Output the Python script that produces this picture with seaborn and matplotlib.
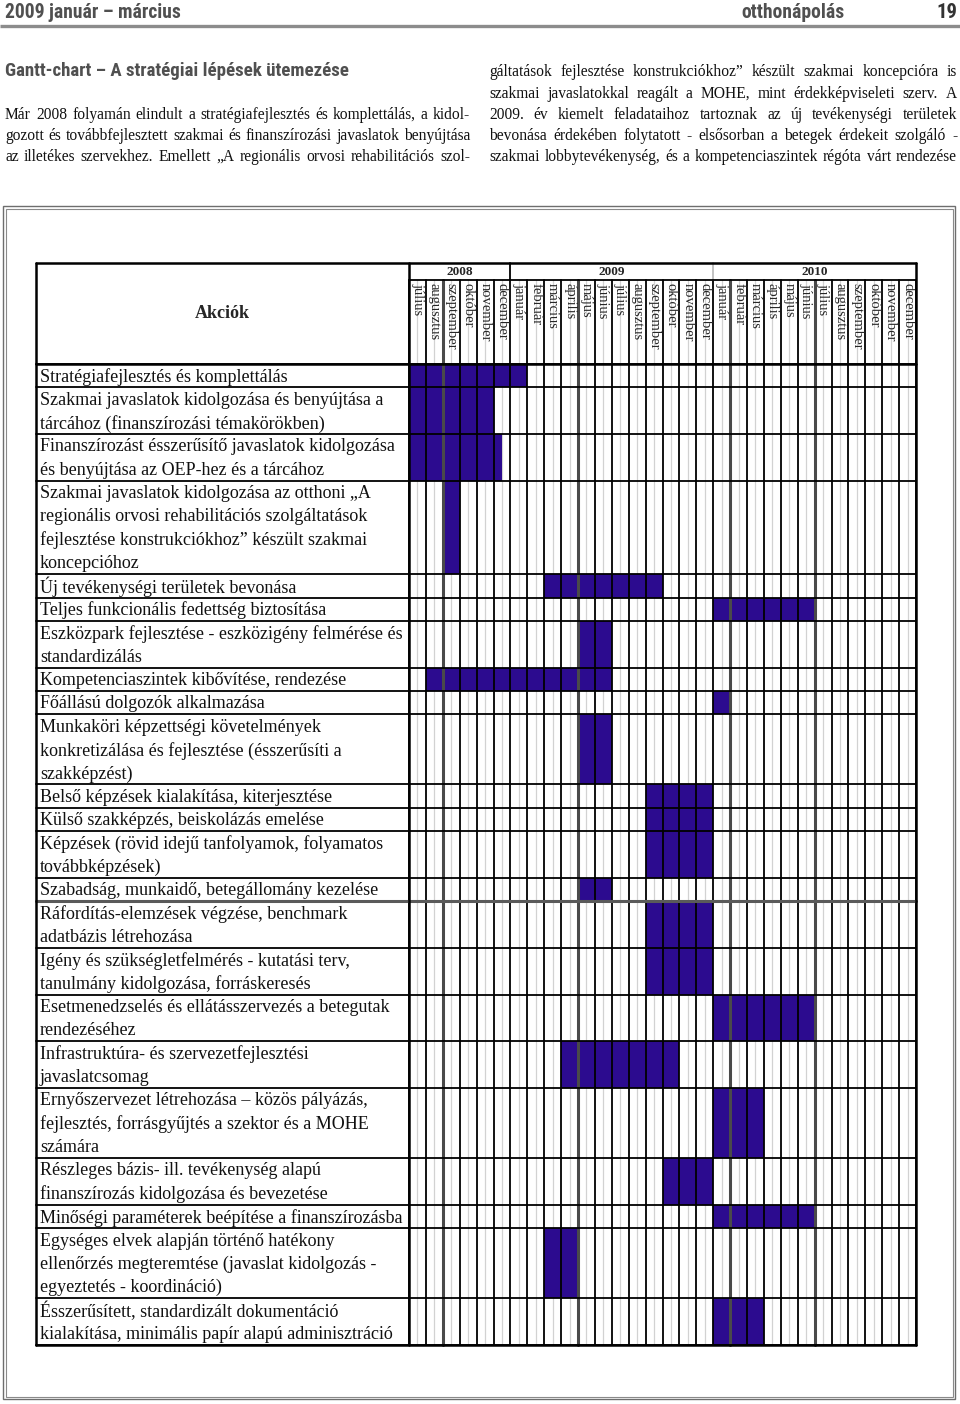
import numpy as np
import matplotlib
matplotlib.use("Agg")
import matplotlib.pyplot as plt
from matplotlib import font_manager as fm
from matplotlib.colors import ListedColormap
from matplotlib.patches import Rectangle
import matplotlib.transforms as mtrans
import seaborn as sns

# ---------------- data ----------------
actions = [
    "Stratégiafejlesztés és komplettálás",
    "Szakmai javaslatok kidolgozása és benyújtása a\ntárcához (finanszírozási témakörökben)",
    "Finanszírozást ésszerűsítő javaslatok kidolgozása\nés benyújtása az OEP-hez és a tárcához",
    "Szakmai javaslatok kidolgozása az otthoni „A\nregionális orvosi rehabilitációs szolgáltatások\nfejlesztése konstrukciókhoz” készült szakmai\nkoncepcióhoz",
    "Új tevékenységi területek bevonása",
    "Teljes funkcionális fedettség biztosítása",
    "Eszközpark fejlesztése - eszközigény felmérése és\nstandardizálás",
    "Kompetenciaszintek kibővítése, rendezése",
    "Főállású dolgozók alkalmazása",
    "Munkaköri képzettségi követelmények\nkonkretizálása és fejlesztése (ésszerűsíti a\nszakképzést)",
    "Belső képzések kialakítása, kiterjesztése",
    "Külső szakképzés, beiskolázás emelése",
    "Képzések (rövid idejű tanfolyamok, folyamatos\ntovábbképzések)",
    "Szabadság, munkaidő, betegállomány kezelése",
    "Ráfordítás-elemzések végzése, benchmark\nadatbázis létrehozása",
    "Igény és szükségletfelmérés - kutatási terv,\ntanulmány kidolgozása, forráskeresés",
    "Esetmenedzselés és ellátásszervezés a betegutak\nrendezéséhez",
    "Infrastruktúra- és szervezetfejlesztési\njavaslatcsomag",
    "Ernyőszervezet létrehozása – közös pályázás,\nfejlesztés, forrásgyűjtés a szektor és a MOHE\nszámára",
    "Részleges bázis- ill. tevékenység alapú\nfinanszírozás kidolgozása és bevezetése",
    "Minőségi paraméterek beépítése a finanszírozásba",
    "Egységes elvek alapján történő hatékony\nellenőrzés megteremtése (javaslat kidolgozás -\negyeztetés - koordináció)",
    "Ésszerűsített, standardizált dokumentáció\nkialakítása, minimális papír alapú adminisztráció",
]
# month index 0 = 2008 július
start_month = [0, 0, 0, 2, 8, 18, 10, 1, 18, 10, 14, 14, 14, 10, 14, 14, 18, 9, 18, 15, 18, 8, 18]
end_month = [7, 5, 5.5, 3, 15, 24, 12, 12, 19, 12, 18, 18, 18, 12, 18, 18, 24, 16, 21, 18, 24, 10, 21]

months = ["július", "augusztus", "szeptember", "október", "november", "december",
          "január", "február", "március", "április", "május", "június",
          "július", "augusztus", "szeptember", "október", "november", "december",
          "január", "február", "március", "április", "május", "június",
          "július", "augusztus", "szeptember", "október", "november", "december"]
years = ["2008", "2009", "2010"]
year_months = [6, 12, 12]

header_left = "2009 január – március"
header_mid = "otthonápolás"
header_page = "19"
section_title = "Gantt-chart – A stratégiai lépések ütemezése"
left_lines = [
    "Már 2008 folyamán elindult a stratégiafejlesztés és komplettálás, a kidol-",
    "gozott és továbbfejlesztett szakmai és finanszírozási javaslatok benyújtása",
    "az illetékes szervekhez. Emellett „A regionális orvosi rehabilitációs szol-",
]
right_lines = [
    "gáltatások fejlesztése konstrukciókhoz” készült szakmai koncepcióra is",
    "szakmai javaslatokkal reagált a MOHE, mint érdekképviseleti szerv. A",
    "2009. év kiemelt feladataihoz tartoznak az új tevékenységi területek",
    "bevonása érdekében folytatott - elsősorban a betegek érdekeit szolgáló -",
    "szakmai lobbytevékenység, és a kompetenciaszintek régóta várt rendezése",
]

# ---------------- style ----------------
sns.set_style("white")
names = {f.name for f in fm.fontManager.ttflist}


def pick(cands, default="DejaVu Sans"):
    for c in cands:
        if c in names:
            return c
    return default


SERIF = pick(["Liberation Serif", "DejaVu Serif"], "DejaVu Serif")
COND = pick(["Roboto Condensed", "Liberation Sans Narrow", "Open Sans Condensed", "Liberation Sans"])
plt.rcParams["font.family"] = [SERIF, "DejaVu Sans"]

FILL = "#2c0b8f"
GRAYTXT = "#505050"

W, H = 960, 1404
fig = plt.figure(figsize=(W / 100, H / 100), dpi=100)
page = fig.add_axes([0, 0, 1, 1])
page.set_xlim(0, W)
page.set_ylim(H, 0)
page.axis("off")
page.set_autoscale_on(False)
page.set_zorder(5)
renderer = fig.canvas.get_renderer()


def width_of(t):
    return t.get_window_extent(renderer).width


def fit_text(x, y, s, target_w, ha="left", **kw):
    t = page.text(x, y, s, ha=ha, va="center", fontsize=20, **kw)
    w = width_of(t)
    t.set_fontsize(20 * target_w / w)
    return t


# ---------------- page header ----------------
hkw = dict(family=[COND, "DejaVu Sans"], weight="bold", color=GRAYTXT)
th = fit_text(5, 12, header_left, 176, **hkw)
hsize = th.get_fontsize()
page.text(793, 12, header_mid, ha="center", va="center", fontsize=hsize, **hkw)
page.text(957, 12, header_page, ha="right", va="center", fontsize=hsize * 1.05,
          family=[COND, "DejaVu Sans"], weight="bold", color="#333333")
page.plot([0, W], [26, 26], color="#8c8c8c", lw=2.4, solid_capstyle="butt")
fit_text(5, 71, section_title, 341, **hkw)

# ---------------- justified body text ----------------
BASE = 10.0


def natural_width(line, size):
    t = page.text(0, 0, line, fontsize=size, family=[SERIF, "DejaVu Sans"])
    w = width_of(t)
    t.remove()
    return w


cols = [(5, 470, [115, 136, 157], left_lines), (489, 957, [72, 94, 115, 136, 157], right_lines)]
scale = min((x1 - x0) / natural_width(l, BASE) for x0, x1, _, ls in cols for l in ls)
body_size = BASE * scale * 0.995

for x0, x1, ys, ls in cols:
    for y, line in zip(ys, ls):
        words = line.split(" ")
        ts = [page.text(0, y, wd, fontsize=body_size, va="center", ha="left",
                        family=[SERIF, "DejaVu Sans"], color="#111111") for wd in words]
        ws = [width_of(t) for t in ts]
        gap = (x1 - x0 - sum(ws)) / max(len(words) - 1, 1)
        x = x0
        for t, w in zip(ts, ws):
            t.set_x(x)
            x += w + gap

# ---------------- outer frame ----------------
page.add_patch(Rectangle((3, 206), 952, 1193, fill=False, ec="#6e6e6e", lw=1.0))
page.add_patch(Rectangle((5.5, 208.5), 947, 1188, fill=False, ec="#8a8a8a", lw=0.8))

# ---------------- gantt grid (seaborn heatmap) ----------------
GX0, GX1, GY0, GY1 = 409, 916, 364, 1345
TX0, TY0, YEAR_Y1 = 36, 263, 280
n_lines = [a.count("\n") + 1 for a in actions]
total = sum(n_lines)
nmon = len(months)
res = 2
mat = np.zeros((total, nmon * res))
bounds = [0]
r = 0
for s, e, n in zip(start_month, end_month, n_lines):
    mat[r:r + n, int(round(s * res)):int(round(e * res))] = 1
    r += n
    bounds.append(r)

gax = fig.add_axes([GX0 / W, 1 - GY1 / H, (GX1 - GX0) / W, (GY1 - GY0) / H])
gax.set_zorder(1)
gax.set_facecolor("white")
sns.heatmap(mat, ax=gax, cmap=ListedColormap([(1, 1, 1, 0), FILL]), vmin=0, vmax=1,
            cbar=False, xticklabels=False, yticklabels=False, linewidths=0)
gax.set_xlim(0, nmon * res)
gax.set_ylim(total, 0)
for sp in gax.spines.values():
    sp.set_visible(False)

bt_x = mtrans.blended_transform_factory(gax.transData, page.transData)  # x: months, y: px
bt_y = mtrans.blended_transform_factory(page.transData, gax.transData)  # x: px, y: rows

# light inner stripes of the scanned table
for m in range(nmon):
    xm = (m + 0.5) * res
    gax.plot([xm, xm], [YEAR_Y1, GY1], transform=bt_x, color="#d2d2d2", lw=0.9, zorder=0.5, clip_on=False)

# month boundaries
dark_gray = {2, 10, 19, 24}
for m in range(nmon + 1):
    xm = m * res
    col = "#4a4a4a" if m in dark_gray else "black"
    lw = 2.2 if m in dark_gray else 1.3
    page.plot([xm, xm], [YEAR_Y1, GY1], transform=bt_x, color=col, lw=lw, zorder=3, clip_on=False)

# year separators
cum = 0
for yr, nm in zip(years, year_months):
    page.text(cum + nm / 2, 272, yr, transform=mtrans.blended_transform_factory(
        mtrans.Affine2D().scale(res) + gax.transData, page.transData),
        ha="center", va="center", fontsize=9.5, weight="bold", family=[SERIF, "DejaVu Sans"])
    cum += nm
    if cum < nmon:
        c = "black" if cum == year_months[0] else "#bdbdbd"
        page.plot([cum * res, cum * res], [TY0, YEAR_Y1], transform=bt_x, color=c, lw=1.3, zorder=3)

# month labels
for m, name in enumerate(months):
    page.text((m + 0.5) * res, YEAR_Y1 + 3, name, transform=bt_x, rotation=-90,
              ha="center", va="top", fontsize=10.5, family=[SERIF, "DejaVu Sans"],
              rotation_mode="default")

# row boundaries
for i, b in enumerate(bounds):
    col = "#5a5a5a" if i == 14 else "black"
    lw = 2.2 if i == 14 else 1.3
    page.plot([TX0, GX1], [b, b], transform=bt_y, color=col, lw=lw, zorder=3)

# table frame
page.plot([TX0, GX1], [TY0, TY0], color="black", lw=1.8, zorder=3)
page.plot([GX0, GX1], [YEAR_Y1, YEAR_Y1], color="black", lw=1.3, zorder=3)
page.plot([TX0, GX1], [GY0, GY0], color="black", lw=1.8, zorder=3)
page.plot([TX0, GX1], [GY1, GY1], color="black", lw=1.8, zorder=3)
for x in (TX0, GX0, GX1):
    page.plot([x, x], [TY0, GY1], color="black", lw=1.8, zorder=3)

page.text((TX0 + GX0) / 2, (TY0 + GY0) / 2, "Akciók", ha="center", va="center",
          fontsize=13, weight="bold", family=[SERIF, "DejaVu Sans"])

# action labels
all_lines = [ln for a in actions for ln in a.split("\n")]
lab_base = 12
widest = max(natural_width(ln, lab_base) for ln in all_lines)
lab_size = lab_base * 362 / widest
for a, b in zip(actions, bounds[:-1]):
    for i, ln in enumerate(a.split("\n")):
        page.text(40, b + i + 0.55, ln, transform=bt_y, ha="left", va="center",
                  fontsize=lab_size, family=[SERIF, "DejaVu Sans"], color="#111111")

fig.savefig("out.png", dpi=100)
